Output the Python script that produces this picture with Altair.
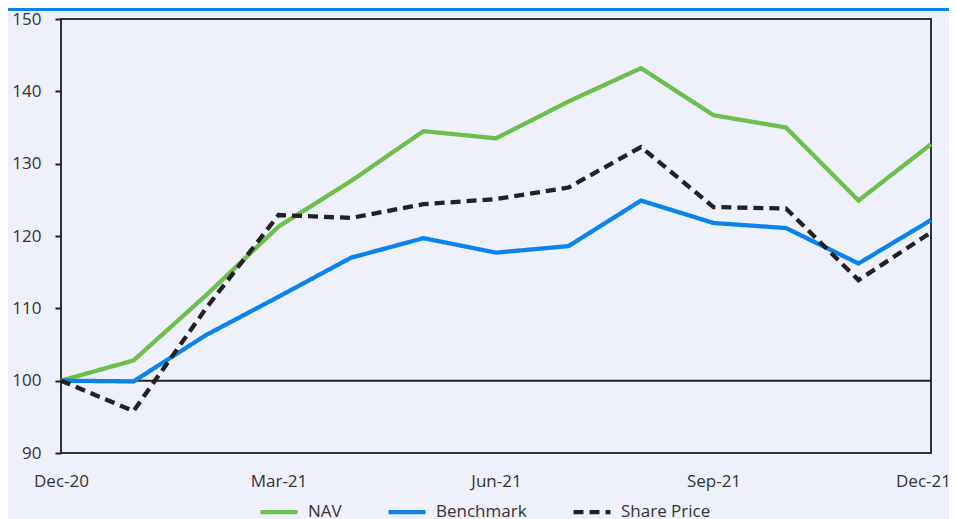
import altair as alt
import pandas as pd

months = ["Dec-20", "Jan-21", "Feb-21", "Mar-21", "Apr-21", "May-21", "Jun-21",
          "Jul-21", "Aug-21", "Sep-21", "Oct-21", "Nov-21", "Dec-21"]
nav = [100.0, 102.8, 111.8, 121.3, 127.6, 134.5, 133.5, 138.6, 143.2, 136.7, 135.0, 124.9, 132.7]
benchmark = [100.0, 99.9, 106.3, 111.6, 117.0, 119.7, 117.7, 118.6, 124.9, 121.8, 121.1, 116.2, 122.2]
share_price = [100.0, 95.8, 110.0, 122.9, 122.5, 124.4, 125.1, 126.7, 132.3, 124.0, 123.8, 113.9, 120.5]
series = ["NAV", "Benchmark", "Share Price"]
colors = ["#6DBE4B", "#0A84EC", "#222222"]
x_tick_labels = ["Dec-20", "Mar-21", "Jun-21", "Sep-21", "Dec-21"]
y_ticks = [90, 100, 110, 120, 130, 140, 150]

rows = []
for name, vals in zip(series, [nav, benchmark, share_price]):
    for m, v in zip(months, vals):
        rows.append({"Month": m, "Value": v, "Series": name})
df = pd.DataFrame(rows)

font = "Open Sans"
legend = alt.Legend(
    title=None, orient="none", legendX=197, legendY=472, direction="horizontal",
    symbolType="stroke", symbolSize=1369, symbolStrokeWidth=4,
    labelFont=font, labelFontSize=17, labelColor="#333333", labelOffset=8,
    columnPadding=37,
)

lines = alt.Chart(df).mark_line(clip=False).encode(
    x=alt.X("Month:O", sort=months, scale=alt.Scale(type="point", padding=0),
            axis=alt.Axis(values=x_tick_labels, labelAngle=0, ticks=False, domain=False,
                          labelPadding=20, title=None, grid=False,
                          labelOffset=alt.expr("datum.label == 'Dec-21' ? -8 : 0"))),
    y=alt.Y("Value:Q", scale=alt.Scale(domain=[90, 150], nice=False, zero=False),
            axis=alt.Axis(values=y_ticks, title=None, grid=False, domain=False,
                          tickSize=6, tickWidth=2, tickColor="#222222", labelPadding=14)),
    color=alt.Color("Series:N", scale=alt.Scale(domain=series, range=colors), legend=legend),
    strokeDash=alt.StrokeDash("Series:N", scale=alt.Scale(domain=series, range=[[1, 0], [1, 0], [10, 6]]),
                              legend=legend),
    strokeWidth=alt.StrokeWidth("Series:N", scale=alt.Scale(domain=series, range=[4.3, 4.3, 3.3]), legend=None),
)

base_rule = alt.Chart(pd.DataFrame({"y": [100]})).mark_rule(color="#222222", strokeWidth=2).encode(
    y=alt.Y("y:Q")
)

top_bar = alt.Chart(pd.DataFrame({"a": [0]})).mark_rule(color="#0A84EC", strokeWidth=3, clip=False).encode(
    x=alt.value(-53), x2=alt.value(900), y=alt.value(-9.5)
)

chart = alt.layer(base_rule, lines, top_bar).properties(
    width=870, height=434,
    autosize=alt.AutoSizeParams(type="none"),
    padding={"left": 53, "top": 11, "right": 18, "bottom": 80},
    background="#EEF0FC",
).configure_view(
    stroke="#333333", strokeWidth=2
).configure_axis(
    labelFont=font, labelFontSize=17, labelColor="#333333"
)

chart.save("out.html", embed_options={"renderer": "svg", "actions": False})
